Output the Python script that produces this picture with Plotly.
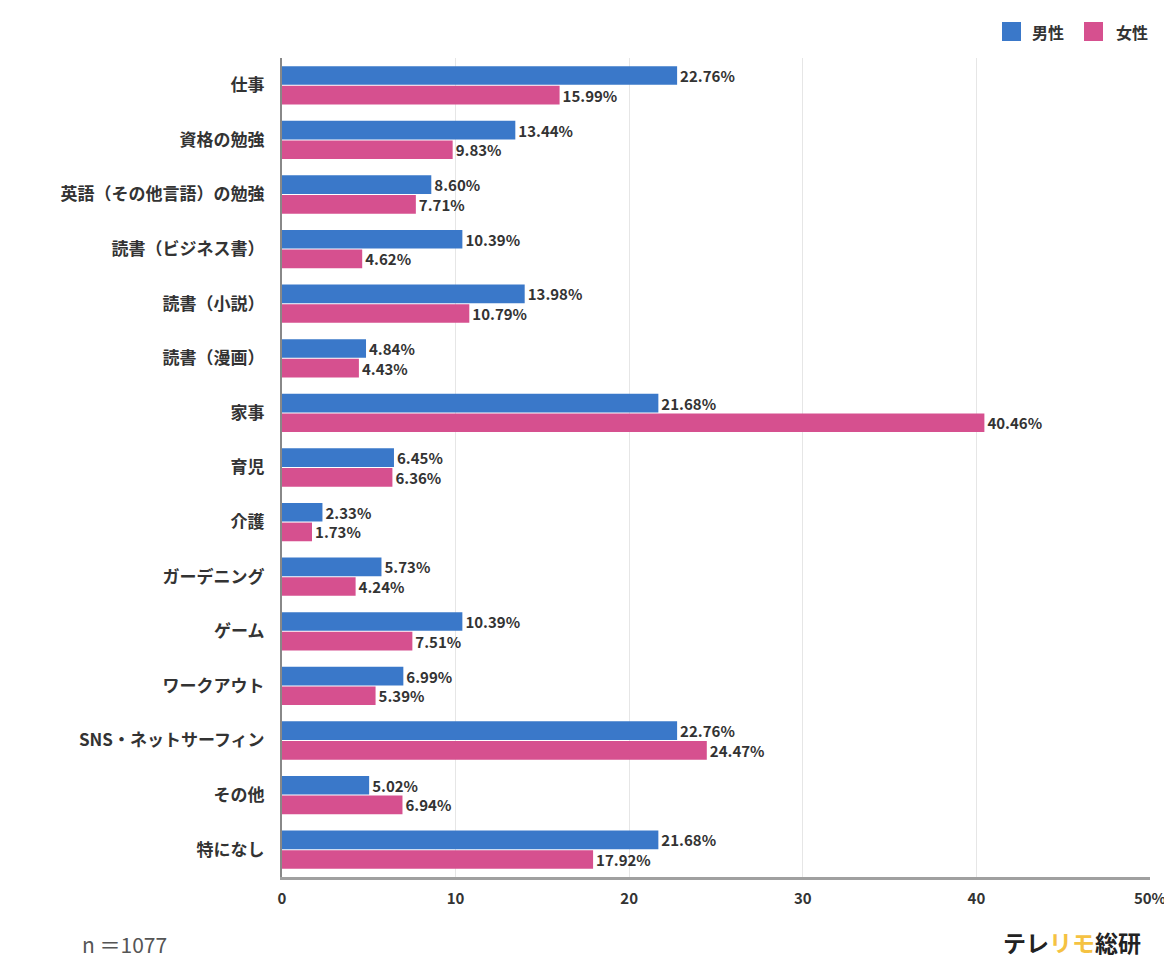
import plotly.graph_objects as go

categories = ["仕事", "資格の勉強", "英語（その他言語）の勉強", "読書（ビジネス書）", "読書（小説）",
              "読書（漫画）", "家事", "育児", "介護", "ガーデニング", "ゲーム", "ワークアウト",
              "SNS・ネットサーフィン", "その他", "特になし"]
male = [22.76, 13.44, 8.60, 10.39, 13.98, 4.84, 21.68, 6.45, 2.33, 5.73, 10.39, 6.99, 22.76, 5.02, 21.68]
female = [15.99, 9.83, 7.71, 4.62, 10.79, 4.43, 40.46, 6.36, 1.73, 4.24, 7.51, 5.39, 24.47, 6.94, 17.92]
tick_vals = [0, 10, 20, 30, 40, 50]
tick_text = ["0", "10", "20", "30", "40", "50%"]

BLUE = "#3a78c9"
PINK = "#d6508f"
FONT = "Noto Sans CJK JP"

fig = go.Figure()
for name, vals, col in [("男性", male, BLUE), ("女性", female, PINK)]:
    fig.add_trace(go.Bar(y=categories, x=vals, orientation="h", name=name,
                         marker=dict(color=col, line=dict(width=0)),
                         texttemplate="%{x:.2f}%", textposition="outside",
                         constraintext="none",
                         textfont=dict(family=FONT, size=15, color="#333", weight="bold"),
                         cliponaxis=False))

fig.update_layout(
    width=1164, height=962,
    margin=dict(l=274, r=22, t=50, b=93, autoexpand=False),
    paper_bgcolor="white", plot_bgcolor="white",
    barmode="group", bargap=0.28, bargroupgap=0.05,
    showlegend=False,
    font=dict(family=FONT, color="#333"),
    xaxis=dict(range=[0, 50], tickvals=tick_vals, ticktext=tick_text,
               showgrid=True, gridcolor="#e6e6e6", gridwidth=1,
               zeroline=False, showline=True, linecolor="#a0a0a0", linewidth=3,
               ticks="", tickfont=dict(family=FONT, size=15, color="#333", weight="bold"),
               ticklabeloverflow="allow", ticklabelstandoff=6, automargin=False),
    yaxis=dict(autorange="reversed", showline=True, linecolor="#888", linewidth=2,
               ticks="", showgrid=False, automargin=False,
               tickfont=dict(family=FONT, size=17, color="#333", weight="bold"),
               ticklabelstandoff=12),
)

def px(X):
    return (X - 282) / 868

def py(Y):
    return (877 - Y) / 819

# custom legend
fig.add_shape(type="rect", xref="paper", yref="paper",
              x0=px(1002), x1=px(1021), y0=py(41), y1=py(22),
              fillcolor=BLUE, line=dict(width=0))
fig.add_shape(type="rect", xref="paper", yref="paper",
              x0=px(1084), x1=px(1103), y0=py(41), y1=py(22),
              fillcolor=PINK, line=dict(width=0))
fig.add_annotation(xref="paper", yref="paper", x=px(1030), y=py(32),
                   text="男性", showarrow=False, xanchor="left", yanchor="middle",
                   font=dict(family=FONT, size=16, color="#333", weight="bold"))
fig.add_annotation(xref="paper", yref="paper", x=px(1114), y=py(32),
                   text="女性", showarrow=False, xanchor="left", yanchor="middle",
                   font=dict(family=FONT, size=16, color="#333", weight="bold"))

# footer
fig.add_annotation(xref="paper", yref="paper", x=px(80), y=py(944),
                   text="n ＝1077", showarrow=False, xanchor="left", yanchor="middle",
                   font=dict(family=FONT, size=21, color="#555"))
fig.add_annotation(xref="paper", yref="paper", x=px(1143), y=py(942),
                   text="テレ<span style='color:#f5c242'>リモ</span>総研", showarrow=False,
                   xanchor="right", yanchor="middle",
                   font=dict(family=FONT, size=23, color="#222", weight="bold"))

fig.write_html("out.html")
